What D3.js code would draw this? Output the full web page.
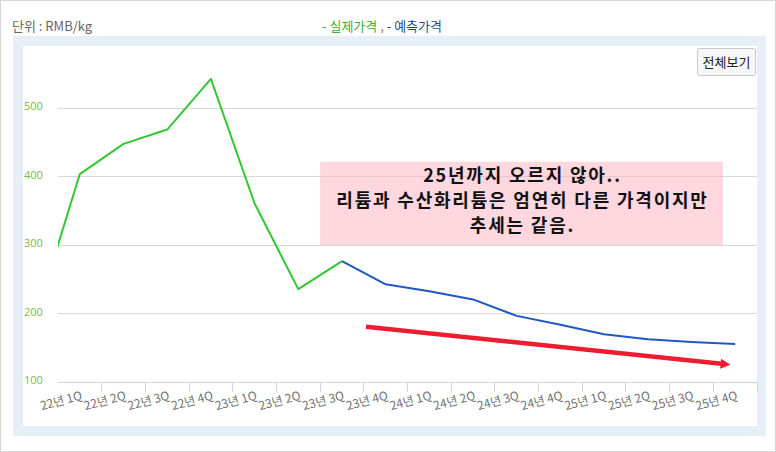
<!DOCTYPE html>
<html><head><meta charset="utf-8">
<script src="https://cdn.jsdelivr.net/npm/d3@7"></script>
<style>
html,body{margin:0;padding:0;background:#fff;}
svg{display:block;font-family:"Noto Sans CJK KR","Open Sans",sans-serif;}
</style></head>
<body>
<svg id="c" width="776" height="452"></svg>
<script>
// ---- data ----
const hiddenCategory = "21년 4Q";
const categories = ["22년 1Q","22년 2Q","22년 3Q","22년 4Q","23년 1Q","23년 2Q","23년 3Q","23년 4Q",
  "24년 1Q","24년 2Q","24년 3Q","24년 4Q","25년 1Q","25년 2Q","25년 3Q","25년 4Q"];
const actualCats = ["21년 4Q","22년 1Q","22년 2Q","22년 3Q","22년 4Q","23년 1Q","23년 2Q","23년 3Q"];
const actualValues = [197, 404, 448, 469, 543, 361, 236, 277];
const forecastCats = ["23년 3Q","23년 4Q","24년 1Q","24년 2Q","24년 3Q","24년 4Q","25년 1Q","25년 2Q","25년 3Q","25년 4Q"];
const forecastValues = [277, 243, 233, 221, 197, 184, 170, 163, 159, 156];
const yTicks = [100, 200, 300, 400, 500];
const unitLabel = "단위 : RMB/kg";
const legendActual = "- 실제가격";
const legendForecast = "- 예측가격";
const noteLines = ["25년까지 오르지 않아..", "리튬과 수산화리튬은 엄연히 다른 가격이지만", "추세는 같음."];
// annotation box / arrow in data units (category + fraction of band, value)
const noteBox = {c0:"23년 3Q", f0:0.0, c1:"25년 4Q", f1:0.22, v0:300, v1:422};
const arrow = {c0:"23년 4Q", f0:0.05, v0:181, c1:"25년 4Q", f1:0.19, v1:127};

// ---- layout ----
const svg = d3.select("#c");
const L = 58, R = 757, T = 108.3, B = 382.3;

svg.append("rect").attr("x",0.5).attr("y",0.5).attr("width",775).attr("height",451)
  .attr("fill","#fff").attr("stroke","#d4d4d4");
svg.append("rect").attr("x",13).attr("y",36).attr("width",753).attr("height",400).attr("fill","#e6eef7");
svg.append("rect").attr("x",23).attr("y",46).attr("width",734).attr("height",380).attr("fill","#fff");

const allCats = [hiddenCategory].concat(categories);
const step = (R - L) / categories.length;
const x = d3.scaleBand().domain(allCats).range([L - step, R]).padding(0);
const y = d3.scaleLinear().domain([100, 500]).range([B, T]);
const cx = (c, f) => x(c) + (f === undefined ? 0.5 : f) * x.bandwidth();

// header
svg.append("text").attr("x",12).attr("y",31).attr("font-size",13).attr("fill","#666").text(unitLabel);
const lg = svg.append("text").attr("x",322).attr("y",31).attr("font-size",13);
lg.append("tspan").attr("fill","#3cae3c").text(legendActual);
lg.append("tspan").attr("fill","#888").text(" , ");
lg.append("tspan").attr("fill","#1d4f8c").text(legendForecast);

// gridlines
svg.append("g").selectAll("line").data(yTicks).join("line")
  .attr("x1",L).attr("x2",R).attr("y1",d=>y(d)).attr("y2",d=>y(d))
  .attr("stroke","#d8d8d8").attr("stroke-width",1).attr("shape-rendering","crispEdges");
svg.append("g").selectAll("text").data(yTicks).join("text")
  .attr("x",24).attr("y",d=>y(d)+2).attr("font-size",11).attr("fill","#78b84e")
  .attr("font-family","'Open Sans',sans-serif").text(d=>d);

// x axis
svg.append("line").attr("x1",L).attr("x2",R).attr("y1",B).attr("y2",B)
  .attr("stroke","#ccd6eb").attr("shape-rendering","crispEdges");
svg.append("g").selectAll("line").data(categories.slice(1).concat(["__end"])).join("line")
  .attr("x1",d=> d==="__end" ? R : x(d)).attr("x2",d=> d==="__end" ? R : x(d))
  .attr("y1",B).attr("y2",B+10).attr("stroke","#ccd6eb").attr("shape-rendering","crispEdges");
svg.append("g").selectAll("text").data(categories).join("text")
  .attr("text-anchor","end").attr("font-size",12).attr("fill","#707070")
  .attr("transform",d=>`translate(${cx(d)+3},${B+17}) rotate(-15)`)
  .text(d=>d);

// annotation box (behind lines, semi transparent)
svg.append("rect")
  .attr("x",cx(noteBox.c0,noteBox.f0)).attr("y",y(noteBox.v1))
  .attr("width",cx(noteBox.c1,noteBox.f1)-cx(noteBox.c0,noteBox.f0))
  .attr("height",y(noteBox.v0)-y(noteBox.v1))
  .attr("fill","#ffb0bf").attr("opacity",0.5);
const midX = (cx(noteBox.c0,noteBox.f0)+cx(noteBox.c1,noteBox.f1))/2;
svg.append("g").selectAll("text").data(noteLines).join("text")
  .attr("x",midX+1).attr("y",(d,i)=>y(noteBox.v1)+20+i*25)
  .attr("text-anchor","middle").attr("font-size",18).attr("letter-spacing",1.8)
  .attr("font-weight","bold").attr("fill","#111")
  .text(d=>d);

// clip
svg.append("clipPath").attr("id","clip").append("rect")
  .attr("x",L).attr("y",46).attr("width",R-L).attr("height",380);

const line = d3.line().x(d=>cx(d[0])).y(d=>y(d[1]));
svg.append("path").attr("clip-path","url(#clip)")
  .attr("d", line(actualCats.map((c,i)=>[c, actualValues[i]])))
  .attr("fill","none").attr("stroke","#33c633").attr("stroke-width",2).attr("stroke-linejoin","round");
svg.append("path").attr("clip-path","url(#clip)")
  .attr("d", line(forecastCats.map((c,i)=>[c, forecastValues[i]])))
  .attr("fill","none").attr("stroke","#1f57c3").attr("stroke-width",2).attr("stroke-linejoin","round");

// red arrow
const defs = svg.append("defs");
defs.append("marker").attr("id","ah").attr("viewBox","0 0 10 10").attr("refX",1).attr("refY",5)
  .attr("markerWidth",2.4).attr("markerHeight",2.2).attr("orient","auto")
  .append("path").attr("d","M0,0 L10,5 L0,10 z").attr("fill","#ee1c31");
const ax0 = cx(arrow.c0,arrow.f0), ay0 = y(arrow.v0), ax1 = cx(arrow.c1,arrow.f1), ay1 = y(arrow.v1);
svg.append("line").attr("x1",ax0).attr("y1",ay0).attr("x2",ax1).attr("y2",ay1)
  .attr("stroke","#ee1c31").attr("stroke-width",4.5).attr("marker-end","url(#ah)");

// button
svg.append("rect").attr("x",697.5).attr("y",48.5).attr("width",58).attr("height",27).attr("rx",2)
  .attr("fill","#f7f7f7").attr("stroke","#c8c8c8");
svg.append("text").attr("x",726.5).attr("y",67).attr("text-anchor","middle").attr("font-size",13)
  .attr("fill","#222").text("전체보기");
</script>
</body></html>
